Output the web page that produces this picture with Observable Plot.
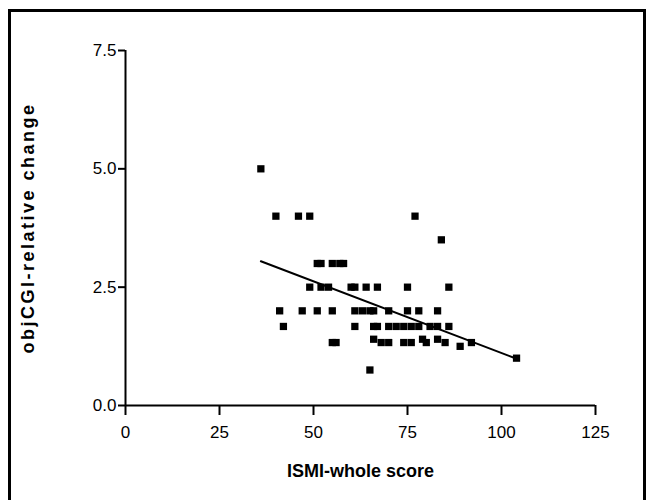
<!DOCTYPE html>
<html>
<head>
<meta charset="utf-8">
<script src="https://cdn.jsdelivr.net/npm/d3@7"></script>
<script src="https://cdn.jsdelivr.net/npm/@observablehq/plot@0.6"></script>
<style>
  html, body { margin: 0; padding: 0; background: #fff; overflow: hidden; }
  #wrap { position: relative; width: 647px; height: 500px; }
  #border { position: absolute; left: 8px; top: 9px; width: 632px; height: 520px; border: 3px solid #000; pointer-events: none; }
</style>
</head>
<body>
<div id="wrap"><div id="border"></div></div>
<script>
// ISMI-whole score (x) and objCGI relative change (y)
const ismiScore = [
  36,
  40, 46, 49, 77,
  84,
  51, 52, 55, 57, 58,
  49, 52, 54, 60, 61, 64, 67, 75, 86,
  41, 47, 51, 55, 61, 63, 65, 66, 70, 75, 78, 83,
  42, 61, 66, 67, 70, 72, 74, 76, 78, 81, 83, 86,
  55, 56, 66, 68, 70, 74, 76, 79, 80, 83, 85, 92,
  89, 65, 104
];
const objCgiChange = [
  5.0,
  4.0, 4.0, 4.0, 4.0,
  3.5,
  3.0, 3.0, 3.0, 3.0, 3.0,
  2.5, 2.5, 2.5, 2.5, 2.5, 2.5, 2.5, 2.5, 2.5,
  2.0, 2.0, 2.0, 2.0, 2.0, 2.0, 2.0, 2.0, 2.0, 2.0, 2.0, 2.0,
  1.67, 1.67, 1.67, 1.67, 1.67, 1.67, 1.67, 1.67, 1.67, 1.67, 1.67, 1.67,
  1.33, 1.33, 1.4, 1.33, 1.33, 1.33, 1.33, 1.4, 1.33, 1.4, 1.33, 1.33,
  1.25, 0.75, 1.0
];
const xTicks = [0, 25, 50, 75, 100, 125];
const yTicks = [0, 2.5, 5.0, 7.5];
const xLabel = "ISMI-whole score";
const yLabel = "objCGI-relative change";

const data = ismiScore.map((x, i) => ({x, y: objCgiChange[i]}));

const chart = Plot.plot({
  width: 647,
  height: 500,
  marginLeft: 125,
  marginRight: 52,
  marginTop: 50,
  marginBottom: 95,
  style: {fontFamily: "'Liberation Sans', Arial, sans-serif", background: "transparent", color: "#000"},
  x: {domain: [0, 125], ticks: xTicks},
  y: {domain: [0, 7.5], ticks: yTicks, tickFormat: d3.format(".1f")},
  marks: [
    Plot.axisX({ticks: xTicks, tickSize: 10, tickPadding: 10, strokeWidth: 2, fontSize: 17, label: null, fill: "#000"}),
    Plot.axisY({ticks: yTicks, tickFormat: d3.format(".1f"), tickSize: 7, tickPadding: 2, strokeWidth: 2, fontSize: 17, label: null, fill: "#000"}),
    Plot.ruleX([0], {stroke: "#000", strokeWidth: 2}),
    Plot.ruleY([0], {stroke: "#000", strokeWidth: 2}),
    Plot.linearRegressionY(data, {x: "x", y: "y", ci: 0, stroke: "#000", strokeWidth: 2}),
    Plot.dot(data, {x: "x", y: "y", symbol: "square", r: 4.1, fill: "#000", stroke: "none"}),
    Plot.text([xLabel], {frameAnchor: "bottom", dy: 71, textAnchor: "middle", text: d => d, fontWeight: "bold", fontSize: 18, fill: "#000"}),
    Plot.text([yLabel], {frameAnchor: "left", dx: -97, rotate: -90, textAnchor: "middle", text: d => d, fontWeight: "bold", fontSize: 18, fill: "#000"})
  ]
});
// letter spacing on the y-axis title
chart.querySelectorAll("text").forEach(t => { if (t.textContent === yLabel) t.style.letterSpacing = "2.5px"; });
document.getElementById("wrap").prepend(chart);
</script>
</body>
</html>
